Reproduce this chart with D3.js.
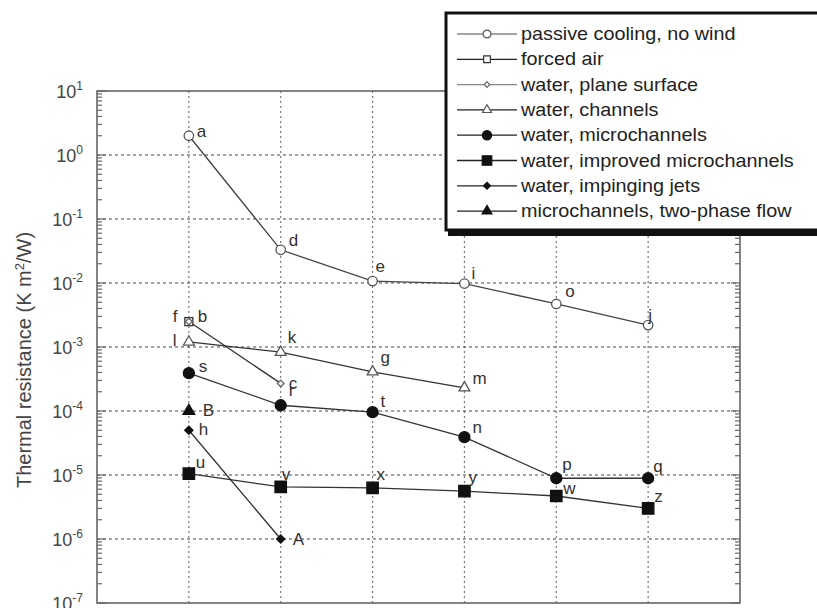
<!DOCTYPE html>
<html>
<head>
<meta charset="utf-8">
<script src="https://cdn.jsdelivr.net/npm/d3@7"></script>
<style>
  body { margin: 0; background: #fff; }
  text { font-family: Arial, "Liberation Sans", sans-serif; }
</style>
</head>
<body>
<svg id="chart" width="817" height="608"></svg>
<script>
// series data, x = column position (1..6), y = thermal resistance
var seriesNames = ["passive cooling, no wind", "forced air", "water, plane surface", "water, channels",
  "water, microchannels", "water, improved microchannels", "water, impinging jets", "microchannels, two-phase flow"];

var passiveX = [1, 2, 3, 4, 5, 6];
var passiveY = [2, 0.033, 0.0107, 0.0098, 0.0047, 0.0022];
var passiveLbl = ["a", "d", "e", "i", "o", "j"];

var forcedX = [1];
var forcedY = [0.0025];
var forcedLbl = ["f"];

var planeX = [1, 2];
var planeY = [0.0025, 0.00027];
var planeLbl = ["b", "c"];

var channelsX = [1, 2, 3, 4];
var channelsY = [0.0012, 0.00083, 0.00041, 0.00023];
var channelsLbl = ["l", "k", "g", "m"];

var microX = [1, 2, 3, 4, 5, 6];
var microY = [0.00039, 0.000123, 0.000096, 0.000039, 0.0000089, 0.0000089];
var microLbl = ["s", "r", "t", "n", "p", "q"];

var improvedX = [1, 2, 3, 4, 5, 6];
var improvedY = [1.05e-5, 6.5e-6, 6.3e-6, 5.6e-6, 4.7e-6, 3.0e-6];
var improvedLbl = ["u", "v", "x", "y", "w", "z"];

var jetsX = [1, 2];
var jetsY = [5e-5, 1e-6];
var jetsLbl = ["h", "A"];

var twoPhaseX = [1];
var twoPhaseY = [1e-4];
var twoPhaseLbl = ["B"];

var yTickExp = [1, 0, -1, -2, -3, -4, -5, -6, -7];
var yTitle = "Thermal resistance (K m";

// label offsets (pixels) relative to the marker
var lblOffset = {
  a: [8, 1], d: [8, -4], e: [3, -9], i: [7, -5], o: [9, -7], j: [0, -4],
  f: [-16, 0], b: [9, 0], c: [8, 6], l: [-16, 4], k: [7, -9], g: [8, -9], m: [8, -4],
  s: [10, -1], r: [8, -9], t: [8, -5], n: [8, -4], p: [6, -8], q: [5, -6],
  u: [7, -6], v: [1, -7], x: [4, -8], y: [4, -8], w: [7, -2], z: [6, -6],
  h: [10, 5], A: [12, 6], B: [14, 5]
};

var svg = d3.select("#chart");
var mLeft = 97, mRight = 740, mTop = 91, mBottom = 603;

var x = d3.scaleLinear().domain([0, 7]).range([mLeft, mRight]);
var y = d3.scaleLog().domain([1e-7, 10]).range([mBottom, mTop]);

// grid
var grid = svg.append("g");
grid.selectAll(".vg").data([1, 2, 3, 4, 5, 6]).join("line")
  .attr("x1", d => x(d)).attr("x2", d => x(d))
  .attr("y1", mTop).attr("y2", mBottom)
  .attr("stroke", "#777").attr("stroke-width", 1.2).attr("stroke-dasharray", "2,3");
grid.selectAll(".hg").data(yTickExp.slice(1, -1)).join("line")
  .attr("x1", mLeft).attr("x2", mRight)
  .attr("y1", d => y(Math.pow(10, d))).attr("y2", d => y(Math.pow(10, d)))
  .attr("stroke", "#444").attr("stroke-width", 1.2).attr("stroke-dasharray", "3,3");

// minor / major ticks on left and right axes
var ticks = [];
for (var e = -7; e < 1; e++) {
  for (var m = 1; m < 10; m++) ticks.push({ v: m * Math.pow(10, e), major: m == 1 });
}
ticks.push({ v: 10, major: true });
["L", "R"].forEach(function (side) {
  svg.append("g").selectAll("line").data(ticks).join("line")
    .attr("x1", side == "L" ? mLeft : mRight)
    .attr("x2", d => side == "L" ? mLeft + (d.major ? 9 : 5) : mRight - (d.major ? 9 : 5))
    .attr("y1", d => y(d.v)).attr("y2", d => y(d.v))
    .attr("stroke", "#666").attr("stroke-width", 1.2);
});

// frame
svg.append("rect").attr("x", mLeft).attr("y", mTop)
  .attr("width", mRight - mLeft).attr("height", mBottom - mTop)
  .attr("fill", "none").attr("stroke", "#666").attr("stroke-width", 1.6);

// y tick labels
var tl = svg.append("g").selectAll("text").data(yTickExp).join("text")
  .attr("x", 83).attr("y", d => y(Math.pow(10, d)) + 7)
  .attr("text-anchor", "end").attr("fill", "#444").attr("font-size", 18);
tl.append("tspan").text("10");
tl.append("tspan").attr("dy", -8).attr("font-size", 12).text(d => d);

// y axis title
var tt = svg.append("text")
  .attr("transform", "translate(31," + 360 + ") rotate(-90)")
  .attr("text-anchor", "middle").attr("fill", "#444").attr("font-size", 20);
tt.append("tspan").text(yTitle);
tt.append("tspan").attr("dy", -7).attr("font-size", 13).text("2");
tt.append("tspan").attr("dy", 7).text("/W)");

// series table
var series = [
  { name: seriesNames[0], xs: passiveX, ys: passiveY, lbl: passiveLbl, sym: d3.symbolCircle, size: 70, fill: "#fff", stroke: "#555", line: "#444", leg: "#888" },
  { name: seriesNames[1], xs: forcedX, ys: forcedY, lbl: forcedLbl, sym: d3.symbolSquare, size: 64, fill: "#fff", stroke: "#333", line: "#333", leg: "#222" },
  { name: seriesNames[2], xs: planeX, ys: planeY, lbl: planeLbl, sym: d3.symbolSquare, size: 22, rot: 45, fill: "#fff", stroke: "#666", line: "#333", leg: "#888" },
  { name: seriesNames[3], xs: channelsX, ys: channelsY, lbl: channelsLbl, sym: d3.symbolTriangle, size: 50, fill: "#fff", stroke: "#555", line: "#333", leg: "#222" },
  { name: seriesNames[4], xs: microX, ys: microY, lbl: microLbl, sym: d3.symbolCircle, size: 95, fill: "#111", stroke: "#111", line: "#333", leg: "#222" },
  { name: seriesNames[5], xs: improvedX, ys: improvedY, lbl: improvedLbl, sym: d3.symbolSquare, size: 130, fill: "#111", stroke: "#111", line: "#333", leg: "#222" },
  { name: seriesNames[6], xs: jetsX, ys: jetsY, lbl: jetsLbl, sym: d3.symbolSquare, size: 34, rot: 45, fill: "#111", stroke: "#111", line: "#333", leg: "#222" },
  { name: seriesNames[7], xs: twoPhaseX, ys: twoPhaseY, lbl: twoPhaseLbl, sym: d3.symbolTriangle, size: 60, fill: "#111", stroke: "#111", line: "#333", leg: "#222" }
];

var line = d3.line().x(d => x(d[0])).y(d => y(d[1]));

series.forEach(function (s) {
  var pts = s.xs.map((v, i) => [v, s.ys[i], s.lbl[i]]);
  if (pts.length > 1) {
    svg.append("path").attr("d", line(pts))
      .attr("fill", "none").attr("stroke", s.line).attr("stroke-width", 1.3);
  }
});

series.forEach(function (s) {
  var pts = s.xs.map((v, i) => [v, s.ys[i], s.lbl[i]]);
  var g = svg.append("g");
  g.selectAll("path").data(pts).join("path")
    .attr("d", d3.symbol().type(s.sym).size(s.size))
    .attr("transform", d => "translate(" + x(d[0]) + "," + y(d[1]) + ") rotate(" + (s.rot || 0) + ")")
    .attr("fill", s.fill).attr("stroke", s.stroke).attr("stroke-width", 1.3);
  g.selectAll("text").data(pts).join("text")
    .attr("x", d => x(d[0]) + lblOffset[d[2]][0])
    .attr("y", d => y(d[1]) + lblOffset[d[2]][1])
    .attr("fill", "#333").attr("font-size", 17)
    .text(d => d[2]);
});

// legend
var leg = svg.append("g");
leg.append("rect").attr("x", 448).attr("y", 17).attr("width", 380).attr("height", 219).attr("fill", "#111");
leg.append("rect").attr("x", 446).attr("y", 13).attr("width", 380).attr("height", 217)
  .attr("fill", "#fff").attr("stroke", "#111").attr("stroke-width", 3);
var items = leg.selectAll(".it").data(series).join("g")
  .attr("transform", (d, i) => "translate(0," + (34 + i * 25.3) + ")");
items.append("line").attr("x1", 457).attr("x2", 517)
  .attr("stroke", d => d.leg).attr("stroke-width", 1.3);
items.append("path")
  .attr("d", d => d3.symbol().type(d.sym).size(d.size * 0.7)())
  .attr("transform", d => "translate(487,0) rotate(" + (d.rot || 0) + ")")
  .attr("fill", d => d.fill).attr("stroke", d => d.stroke).attr("stroke-width", 1.2);
items.append("text")
  .attr("transform", "translate(521,6) scale(1.1,1)")
  .attr("font-size", 18).attr("fill", "#222")
  .text(d => d.name);
</script>
</body>
</html>
